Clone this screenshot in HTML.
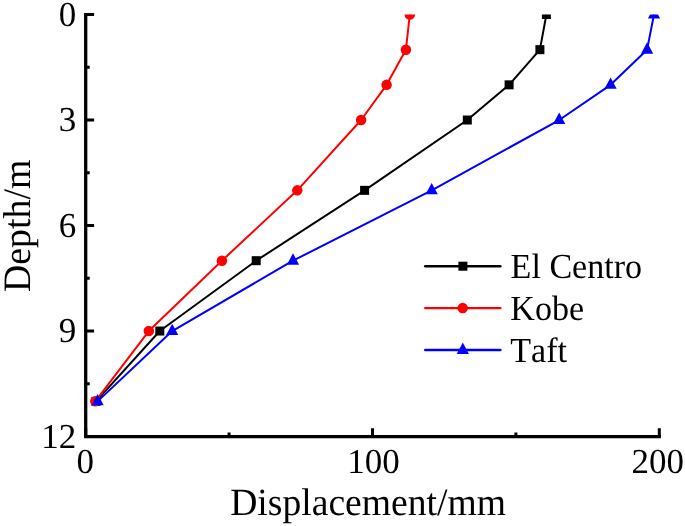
<!DOCTYPE html><html><head><meta charset="utf-8"><style>html,body{margin:0;padding:0;background:#fff;overflow:hidden}svg{display:block;will-change:transform}text{font-family:"Liberation Serif",serif;fill:#000;font-kerning:none;text-rendering:geometricPrecision}</style></head><body>
<svg width="685" height="526" viewBox="0 0 685 526">
<rect width="685" height="526" fill="#fff"/>
<defs><clipPath id="c"><rect x="0" y="14.5" width="685" height="511.5"/></clipPath></defs>
<g clip-path="url(#c)">
<polyline points="546.40,14.50 539.90,49.67 509.10,84.84 467.30,120.01 364.60,190.35 256.20,260.69 159.80,331.03 96.00,401.37" fill="none" stroke="#000" stroke-width="2.0" stroke-linejoin="round"/>
<rect x="541.90" y="10.00" width="9.0" height="9.0" fill="#000"/><rect x="535.40" y="45.17" width="9.0" height="9.0" fill="#000"/><rect x="504.60" y="80.34" width="9.0" height="9.0" fill="#000"/><rect x="462.80" y="115.51" width="9.0" height="9.0" fill="#000"/><rect x="360.10" y="185.85" width="9.0" height="9.0" fill="#000"/><rect x="251.70" y="256.19" width="9.0" height="9.0" fill="#000"/><rect x="155.30" y="326.53" width="9.0" height="9.0" fill="#000"/><rect x="91.50" y="396.87" width="9.0" height="9.0" fill="#000"/>
<polyline points="409.80,14.50 405.90,49.67 386.60,84.84 361.10,120.01 297.30,190.35 221.90,260.69 148.80,331.03 95.30,401.37" fill="none" stroke="#f00" stroke-width="2.0" stroke-linejoin="round"/>
<circle cx="409.80" cy="14.50" r="5.25" fill="#f00"/><circle cx="405.90" cy="49.67" r="5.25" fill="#f00"/><circle cx="386.60" cy="84.84" r="5.25" fill="#f00"/><circle cx="361.10" cy="120.01" r="5.25" fill="#f00"/><circle cx="297.30" cy="190.35" r="5.25" fill="#f00"/><circle cx="221.90" cy="260.69" r="5.25" fill="#f00"/><circle cx="148.80" cy="331.03" r="5.25" fill="#f00"/><circle cx="95.30" cy="401.37" r="5.25" fill="#f00"/>
<polyline points="654.00,14.50 647.10,49.67 610.60,84.84 559.20,120.01 431.70,190.35 293.00,260.69 172.20,331.03 97.60,401.37" fill="none" stroke="#00f" stroke-width="2.0" stroke-linejoin="round"/>
<polygon points="654.00,7.10 660.10,18.50 647.90,18.50" fill="#00f"/><polygon points="647.10,42.27 653.20,53.67 641.00,53.67" fill="#00f"/><polygon points="610.60,77.44 616.70,88.84 604.50,88.84" fill="#00f"/><polygon points="559.20,112.61 565.30,124.01 553.10,124.01" fill="#00f"/><polygon points="431.70,182.95 437.80,194.35 425.60,194.35" fill="#00f"/><polygon points="293.00,253.29 299.10,264.69 286.90,264.69" fill="#00f"/><polygon points="172.20,323.63 178.30,335.03 166.10,335.03" fill="#00f"/><polygon points="97.60,393.97 103.70,405.37 91.50,405.37" fill="#00f"/>
</g>
<path d="M85.70,13.00 V438.19 M84.05,436.54 H660.90" stroke="#000" stroke-width="3.3" fill="none"/>
<path d="M85.70,14.50 H94.10 M85.70,120.01 H94.10 M85.70,225.52 H94.10 M85.70,331.03 H94.10 M85.70,436.54 H94.10 M85.70,67.25 H89.70 M85.70,172.77 H89.70 M85.70,278.28 H89.70 M85.70,383.79 H89.70 M85.70,436.54 V428.14 M372.50,436.54 V428.14 M659.30,436.54 V428.14 M229.10,436.54 V432.54 M515.90,436.54 V432.54" stroke="#000" stroke-width="3" fill="none"/>
<text x="76.2" y="25.50" font-size="35" text-anchor="end">0</text>
<text x="76.2" y="131.01" font-size="35" text-anchor="end">3</text>
<text x="76.2" y="236.52" font-size="35" text-anchor="end">6</text>
<text x="76.2" y="342.03" font-size="35" text-anchor="end">9</text>
<text x="76.2" y="447.54" font-size="35" text-anchor="end">12</text>
<text x="85.3" y="472.8" font-size="35" text-anchor="middle">0</text>
<text x="373.6" y="472.8" font-size="35" text-anchor="middle">100</text>
<text x="657.8" y="472.8" font-size="35" text-anchor="middle">200</text>
<text transform="translate(230.2,515.2) scale(0.975,1)" font-size="38.6">Displacement/mm</text>
<text transform="translate(30.1,292.0) rotate(-90) scale(0.975,1)" font-size="38.8">Depth/m</text>
<line x1="425.2" y1="266.2" x2="500.4" y2="266.2" stroke="#000" stroke-width="2.4" stroke-linecap="round"/><rect x="458.40" y="261.70" width="9.0" height="9.0" fill="#000"/>
<line x1="425.2" y1="308.1" x2="500.4" y2="308.1" stroke="#f00" stroke-width="2.4" stroke-linecap="round"/><circle cx="462.70" cy="308.10" r="5.25" fill="#f00"/>
<line x1="425.2" y1="350.0" x2="500.4" y2="350.0" stroke="#00f" stroke-width="2.4" stroke-linecap="round"/><polygon points="462.80,342.60 468.90,354.00 456.70,354.00" fill="#00f"/>
<text transform="translate(510.6,277.5) scale(0.965,1)" font-size="35.3">El Centro</text>
<text transform="translate(510.3,320.0) scale(0.965,1)" font-size="35.3">Kobe</text>
<text transform="translate(510.3,361.8) scale(0.965,1)" font-size="35.3">Taft</text>
</svg></body></html>
